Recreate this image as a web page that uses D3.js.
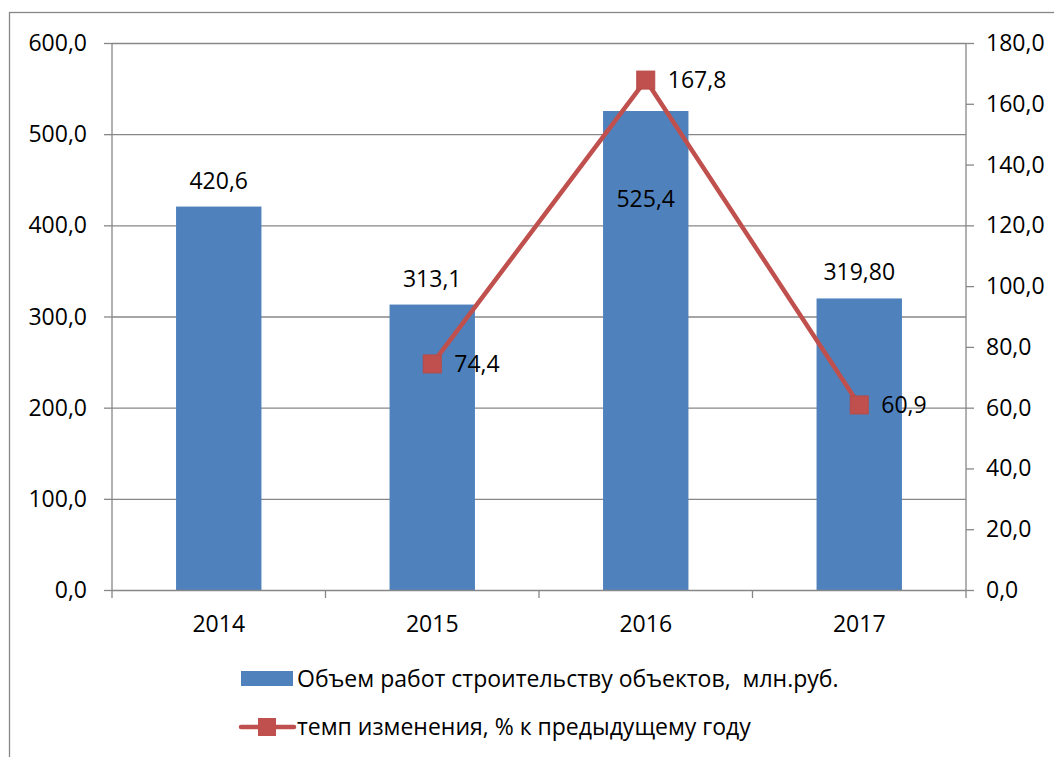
<!DOCTYPE html>
<html><head><meta charset="utf-8">
<script src="https://cdn.jsdelivr.net/npm/d3@7"></script>
<style>body{margin:0;background:#fff}svg{display:block}text{font-family:"Open Sans","Liberation Sans",sans-serif;white-space:pre}</style>
</head><body>
<svg id="c" width="1054" height="757"></svg>
<script>
const categories = ["2014","2015","2016","2017"];
const volumeValues = [420.6, 313.1, 525.4, 319.8];
const volumeLabels = ["420,6","313,1","525,4","319,80"];
const rateValues = [null, 74.4, 167.8, 60.9];
const rateLabels = ["", "74,4", "167,8", "60,9"];
const leftTicks = [0,100,200,300,400,500,600];
const rightTicks = [0,20,40,60,80,100,120,140,160,180];
const seriesNames = ["Объем работ строительству объектов,  млн.руб.", "темп изменения, % к предыдущему году"];

const svg = d3.select("#c");
const L = 112, R = 966, T = 43, B = 590;
const fmt = d => d.toFixed(1).replace(".", ",");
const grey = "#878787";

svg.append("rect").attr("x",9.5).attr("y",12.5).attr("width",1100).attr("height",800)
  .attr("fill","none").attr("stroke",grey).attr("stroke-width",1.3);

const x = d3.scaleBand().domain(categories).range([L,R]).paddingInner(0.6).paddingOuter(0.3);
const xb = d3.scaleBand().domain(categories).range([L,R]);
const yL = d3.scaleLinear().domain([0,600]).range([B,T]);
const yR = d3.scaleLinear().domain([0,180]).range([B,T]);

svg.append("g").selectAll("line").data(leftTicks.slice(1)).join("line")
  .attr("x1",L).attr("x2",R).attr("y1",d=>yL(d)+0.5).attr("y2",d=>yL(d)+0.5)
  .attr("stroke",grey).attr("stroke-width",1.3);

svg.append("g").selectAll("rect").data(volumeValues).join("rect")
  .attr("x",(d,i)=>x(categories[i])).attr("width",x.bandwidth())
  .attr("y",d=>yL(d)).attr("height",d=>B-yL(d)).attr("fill","#4F81BD");

const ax = svg.append("g").attr("stroke",grey).attr("stroke-width",1.3);
ax.append("line").attr("x1",L).attr("x2",L).attr("y1",T).attr("y2",B);
ax.append("line").attr("x1",R).attr("x2",R).attr("y1",T).attr("y2",B);
ax.append("line").attr("x1",L).attr("x2",R).attr("y1",B+0.5).attr("y2",B+0.5);
ax.selectAll(".tl").data(leftTicks).join("line").attr("x1",L-8).attr("x2",L).attr("y1",d=>yL(d)+0.5).attr("y2",d=>yL(d)+0.5);
ax.selectAll(".tr").data(rightTicks).join("line").attr("x1",R).attr("x2",R+8).attr("y1",d=>yR(d)+0.5).attr("y2",d=>yR(d)+0.5);
const bounds = categories.map(c=>xb(c)).concat([R]);
ax.selectAll(".tx").data(bounds).join("line").attr("x1",d=>d).attr("x2",d=>d).attr("y1",B).attr("y2",B+8);

const fs = 23;
svg.append("g").selectAll("text").data(leftTicks).join("text")
  .attr("x",87).attr("y",d=>yL(d)).attr("dy","0.35em").attr("text-anchor","end")
  .attr("font-size",fs).text(fmt);
svg.append("g").selectAll("text").data(rightTicks).join("text")
  .attr("x",986).attr("y",d=>yR(d)).attr("dy","0.35em").attr("text-anchor","start")
  .attr("font-size",fs).text(fmt);
svg.append("g").selectAll("text").data(categories).join("text")
  .attr("x",d=>xb(d)+xb.bandwidth()/2).attr("y",624).attr("dy","0.35em").attr("text-anchor","middle")
  .attr("font-size",fs).text(d=>d);

svg.append("g").selectAll("text").data(volumeLabels).join("text")
  .attr("x",(d,i)=>x(categories[i])+x.bandwidth()/2)
  .attr("y",(d,i)=> i===2 ? yL(volumeValues[i]) + 88 : yL(volumeValues[i]) - 26)
  .attr("dy","0.35em").attr("text-anchor","middle").attr("font-size",fs).text(d=>d);

const pts = rateValues.map((v,i)=>({v,i})).filter(p=>p.v!==null);
const cx = i => xb(categories[i]) + xb.bandwidth()/2;
svg.append("path").datum(pts)
  .attr("d", d3.line().x(p=>cx(p.i)).y(p=>yR(p.v)))
  .attr("fill","none").attr("stroke","#C0504D").attr("stroke-width",4.5).attr("stroke-linejoin","round");
svg.append("g").selectAll("rect").data(pts).join("rect")
  .attr("x",p=>cx(p.i)-9).attr("y",p=>yR(p.v)-9).attr("width",18).attr("height",18)
  .attr("fill","#C0504D").attr("stroke","#B84A47").attr("stroke-width",1);
svg.append("g").selectAll("text").data(pts).join("text")
  .attr("x",p=>cx(p.i)+22).attr("y",p=>yR(p.v)).attr("dy","0.35em")
  .attr("font-size",fs).text(p=>rateLabels[p.i]);

const lg = svg.append("g");
lg.append("rect").attr("x",241).attr("y",671).attr("width",52).attr("height",15).attr("fill","#4F81BD");
lg.append("text").attr("x",297).attr("y",679).attr("dy","0.35em").attr("font-size",fs).text(seriesNames[0]);
lg.append("line").attr("x1",241).attr("x2",294).attr("y1",727).attr("y2",727)
  .attr("stroke","#C0504D").attr("stroke-width",4.5).attr("stroke-linecap","round");
lg.append("rect").attr("x",258).attr("y",718).attr("width",18).attr("height",18).attr("fill","#C0504D");
lg.append("text").attr("x",297).attr("y",727).attr("dy","0.35em").attr("font-size",fs).text(seriesNames[1]);
</script>
</body></html>
